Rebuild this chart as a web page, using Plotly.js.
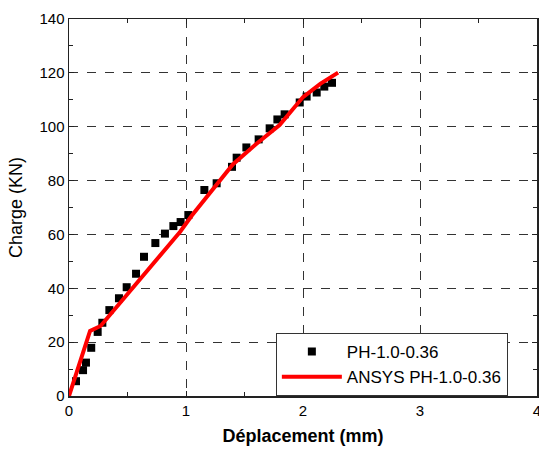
<!DOCTYPE html>
<html>
<head>
<meta charset="utf-8">
<script src="https://cdn.plot.ly/plotly-3.0.1.min.js"></script>
<style>html,body{margin:0;padding:0;background:#fff}#chart{width:539px;height:449px}</style>
</head>
<body>
<div id="chart"></div>
<script>
// Experimental data: PH-1.0-0.36
const expDisp = [0.06, 0.12, 0.145, 0.19, 0.245, 0.285, 0.345, 0.427, 0.493, 0.573, 0.641, 0.738, 0.82, 0.892, 0.954, 1.02, 1.157, 1.262, 1.393, 1.433, 1.516, 1.621, 1.715, 1.781, 1.843, 1.972, 2.031, 2.117, 2.182, 2.248];
const expLoad = [5.5, 9.6, 12.4, 17.9, 23.8, 27.2, 31.9, 36.3, 40.4, 45.4, 51.7, 56.8, 60.3, 63.1, 64.6, 67.2, 76.5, 79.0, 85.1, 88.5, 92.3, 95.3, 99.4, 102.7, 104.6, 109.0, 111.2, 112.7, 114.9, 116.3];
// ANSYS model: ANSYS PH-1.0-0.36
const femDisp = [0, 0.18, 0.27, 0.5, 0.95, 1.05, 1.15, 1.25, 1.4, 1.6, 1.8, 2.0, 2.15, 2.3];
const femLoad = [0, 24.2, 26.0, 37.8, 61.0, 67.0, 72.5, 78.0, 86.0, 93.6, 100.6, 111.0, 116.0, 120.1];
const xTicks = [0, 1, 2, 3, 4];
const yTicks = [0, 20, 40, 60, 80, 100, 120, 140];

const FONT = 'Arial, "Liberation Sans", sans-serif';

const traces = [
  {x: expDisp, y: expLoad, mode: 'markers', type: 'scatter', name: 'PH-1.0-0.36',
   marker: {symbol: 'square', size: 8, color: '#000'}},
  {x: femDisp, y: femLoad, mode: 'lines', type: 'scatter', name: 'ANSYS PH-1.0-0.36',
   line: {color: '#ff0000', width: 4}}
];

const axisCommon = {
  showline: true, linecolor: '#222', linewidth: 1.5, mirror: 'ticks',
  ticks: 'inside', ticklen: 5, tickcolor: '#222', tickwidth: 1,
  showgrid: true, gridcolor: '#333', griddash: 'dash', gridwidth: 1,
  zeroline: false, ticklabeloverflow: 'allow',
  tickfont: {family: FONT, size: 15, color: '#000'}
};

const layout = {
  width: 539, height: 449,
  margin: {l: 69, r: 2, t: 19, b: 53},
  paper_bgcolor: '#fff', plot_bgcolor: '#fff',
  showlegend: true,
  xaxis: Object.assign({}, axisCommon, {
    range: [0, 4], tickvals: xTicks, ticktext: xTicks.map(String),
    minor: {ticks: 'inside', ticklen: 4, dtick: 0.5, tickcolor: '#222', showgrid: false},
    title: {text: '<b>Déplacement (mm)</b>', font: {family: FONT, size: 18, color: '#000'}, standoff: 12}
  }),
  yaxis: Object.assign({}, axisCommon, {
    range: [0, 140], tickvals: yTicks, ticktext: yTicks.map(String),
    minor: {ticks: 'inside', ticklen: 4, dtick: 10, tickcolor: '#222', showgrid: false},
    title: {text: 'Charge (KN)', font: {family: FONT, size: 18, color: '#000'}, standoff: 12}
  }),
  legend: {
    x: 0.442, xanchor: 'left', y: 0.167, yanchor: 'top',
    bgcolor: '#fff', bordercolor: '#333', borderwidth: 1,
    font: {family: FONT, size: 17, color: '#000'},
    itemwidth: 60, tracegroupgap: 0
  },
  font: {family: FONT}
};

Plotly.newPlot('chart', traces, layout, {displayModeBar: false, staticPlot: true});
</script>
</body>
</html>
